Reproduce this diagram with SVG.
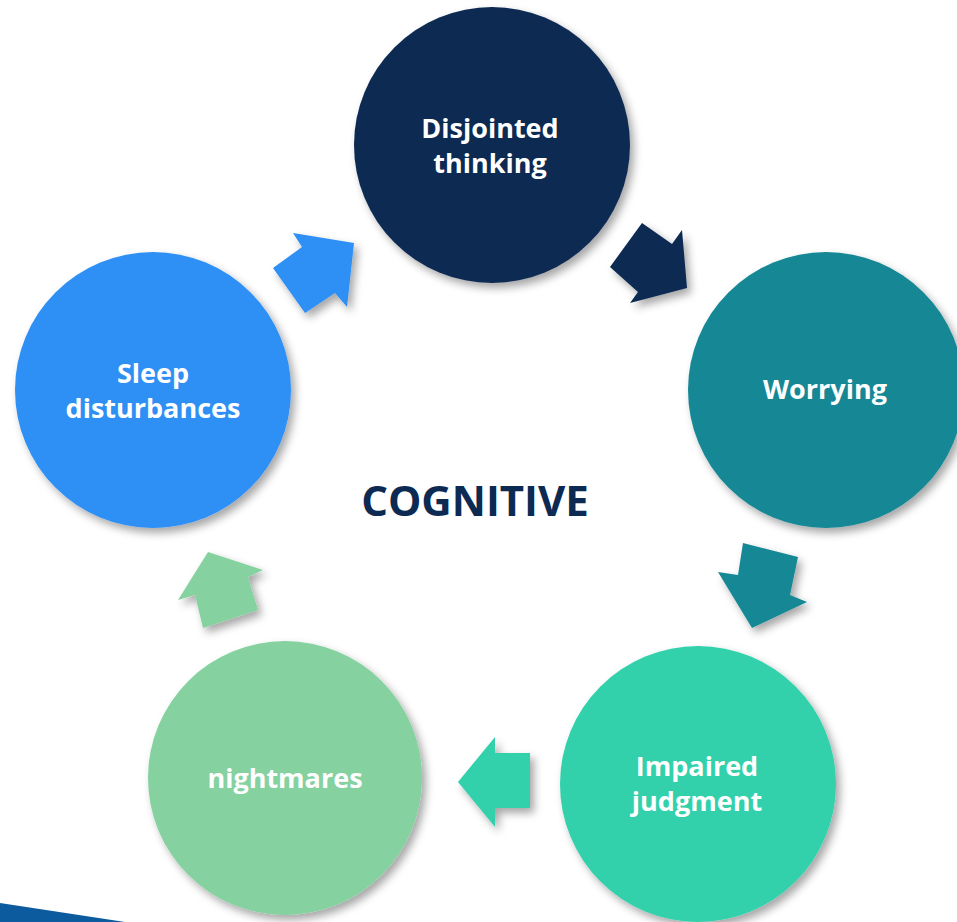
<svg xmlns="http://www.w3.org/2000/svg" width="957" height="922" viewBox="0 0 957 922">
<defs>
<filter id="sh" x="-20%" y="-20%" width="140%" height="140%">
<feDropShadow dx="4" dy="5" stdDeviation="4" flood-color="#000" flood-opacity="0.35"/>
</filter>
<style>
.lbl{font-family:"Open Sans","Liberation Sans",sans-serif;font-weight:bold;font-size:27px;fill:#fff;text-anchor:middle}
.title{font-family:"Open Sans","Liberation Sans",sans-serif;font-weight:bold;font-size:42px;fill:#0c2a52;text-anchor:middle}
</style>
</defs>
<rect width="957" height="922" fill="#fff"/>
<polygon points="0,903 125,922 0,922" fill="#0d5b9f"/>
<g id="connectors" filter="url(#sh)">
<polygon id="a1" points="293,233 302,247 273,268 305,313 335,293 347,307 354,243" fill="#2e8ff5"/>
<polygon id="a2" points="642,223 672,244 682,230 687,288 630,303 638,292 610,267" fill="#0c2a52"/>
<polygon id="a3" points="743,543 798,557 790,595 807,602 752,628 718,572 738,575" fill="#188895"/>
<polygon id="a4" points="458,782 495,737 495,753 530,753 530,808 495,808 495,827" fill="#33d1ab"/>
<polygon id="a5" points="208,552 263,570 248,577 258,610 203,628 195,595 178,600" fill="#85d1a0"/>
</g>
<g id="n1"><circle cx="492" cy="145" r="138" fill="#0c2a52" filter="url(#sh)"/>
<text class="lbl" x="490" y="138">Disjointed</text><text class="lbl" x="490" y="173">thinking</text></g>
<g id="n2"><circle cx="826" cy="390" r="138" fill="#188895" filter="url(#sh)"/>
<text class="lbl" x="825" y="399">Worrying</text></g>
<g id="n3"><circle cx="698" cy="784" r="138" fill="#33d1ab" filter="url(#sh)"/>
<text class="lbl" x="697" y="776">Impaired</text><text class="lbl" x="697" y="811">judgment</text></g>
<g id="n4"><circle cx="285" cy="778" r="137" fill="#85d1a0" filter="url(#sh)"/>
<text class="lbl" x="285" y="788">nightmares</text></g>
<g id="n5"><circle cx="153" cy="390" r="138" fill="#2e8ff5" filter="url(#sh)"/>
<text class="lbl" x="153" y="383">Sleep</text><text class="lbl" x="153" y="418">disturbances</text></g>
<text class="title" x="475" y="516">COGNITIVE</text>
</svg>
